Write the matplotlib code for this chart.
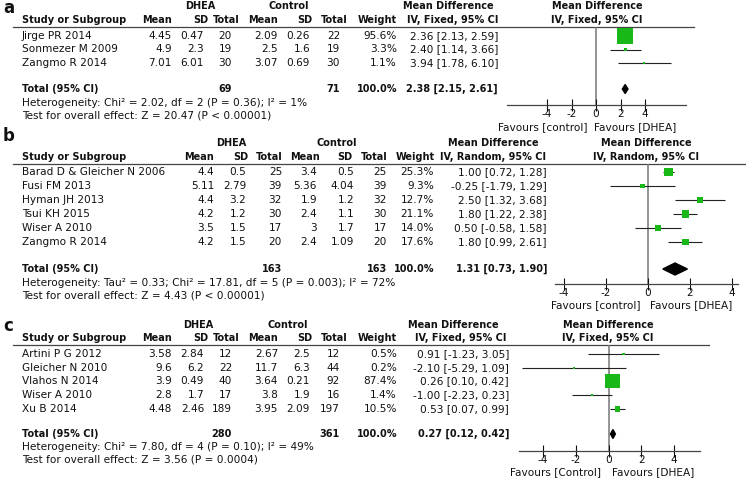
import numpy as np
import matplotlib.pyplot as plt
from matplotlib.patches import Polygon

W, H = 746, 480
plt.rcParams['font.family'] = 'DejaVu Sans'
FS = 7.55   # regular text
FB = 7.0    # bold text
GREEN = '#17b817'

# ---- panel a : IV, Fixed
a_study = ['Jirge PR 2014', 'Sonmezer M 2009', 'Zangmo R 2014']
a_dhea_mean = ['4.45', '4.9', '7.01']
a_dhea_sd = ['0.47', '2.3', '6.01']
a_dhea_n = [20, 19, 30]
a_ctrl_mean = ['2.09', '2.5', '3.07']
a_ctrl_sd = ['0.26', '1.6', '0.69']
a_ctrl_n = [22, 19, 30]
a_weight = [95.6, 3.3, 1.1]
a_md = [2.36, 2.40, 3.94]
a_lo = [2.13, 1.14, 1.78]
a_hi = [2.59, 3.66, 6.10]
a_total = [2.38, 2.15, 2.61]
a_het = 'Heterogeneity: Chi² = 2.02, df = 2 (P = 0.36); I² = 1%'
a_test = 'Test for overall effect: Z = 20.47 (P < 0.00001)'

# ---- panel b : IV, Random
b_study = ['Barad D & Gleicher N 2006', 'Fusi FM 2013', 'Hyman JH 2013',
           'Tsui KH 2015', 'Wiser A 2010', 'Zangmo R 2014']
b_dhea_mean = ['4.4', '5.11', '4.4', '4.2', '3.5', '4.2']
b_dhea_sd = ['0.5', '2.79', '3.2', '1.2', '1.5', '1.5']
b_dhea_n = [25, 39, 32, 30, 17, 20]
b_ctrl_mean = ['3.4', '5.36', '1.9', '2.4', '3', '2.4']
b_ctrl_sd = ['0.5', '4.04', '1.2', '1.1', '1.7', '1.09']
b_ctrl_n = [25, 39, 32, 30, 17, 20]
b_weight = [25.3, 9.3, 12.7, 21.1, 14.0, 17.6]
b_md = [1.00, -0.25, 2.50, 1.80, 0.50, 1.80]
b_lo = [0.72, -1.79, 1.32, 1.22, -0.58, 0.99]
b_hi = [1.28, 1.29, 3.68, 2.38, 1.58, 2.61]
b_total = [1.31, 0.73, 1.90]
b_het = 'Heterogeneity: Tau² = 0.33; Chi² = 17.81, df = 5 (P = 0.003); I² = 72%'
b_test = 'Test for overall effect: Z = 4.43 (P < 0.00001)'

# ---- panel c : IV, Fixed
c_study = ['Artini P G 2012', 'Gleicher N 2010', 'Vlahos N 2014', 'Wiser A 2010', 'Xu B 2014']
c_dhea_mean = ['3.58', '9.6', '3.9', '2.8', '4.48']
c_dhea_sd = ['2.84', '6.2', '0.49', '1.7', '2.46']
c_dhea_n = [12, 22, 40, 17, 189]
c_ctrl_mean = ['2.67', '11.7', '3.64', '3.8', '3.95']
c_ctrl_sd = ['2.5', '6.3', '0.21', '1.9', '2.09']
c_ctrl_n = [12, 44, 92, 16, 197]
c_weight = [0.5, 0.2, 87.4, 1.4, 10.5]
c_md = [0.91, -2.10, 0.26, -1.00, 0.53]
c_lo = [-1.23, -5.29, 0.10, -2.23, 0.07]
c_hi = [3.05, 1.09, 0.42, 0.23, 0.99]
c_total = [0.27, 0.12, 0.42]
c_het = 'Heterogeneity: Chi² = 7.80, df = 4 (P = 0.10); I² = 49%'
c_test = 'Test for overall effect: Z = 3.56 (P = 0.0004)'

ticks = [-4, -2, 0, 2, 4]

fig = plt.figure(figsize=(W / 100, H / 100), dpi=100)
ov = fig.add_axes([0, 0, 1, 1])
ov.set_xlim(0, W)
ov.set_ylim(H, 0)
ov.axis('off')


def txt(x, y, s, ha='left', bold=False, size=None):
    if size is None:
        size = FB if bold else FS
    ov.text(x, y, s, ha=ha, va='center', fontsize=size,
            fontweight='bold' if bold else 'normal', color='#111111')


def panel(lay, letter, method, study, m1, sd1, n1, m2, sd2, n2, w, md, lo, hi, tot,
          het, test, ctrl_word):
    # header block
    txt(3, lay['label_y'], letter, bold=True, size=12)
    txt(lay['grp1'], lay['grp_y'], 'DHEA', ha='center', bold=True)
    txt(lay['grp2'], lay['grp_y'], 'Control', ha='center', bold=True)
    txt(lay['mdc'][0], lay['grp_y'], 'Mean Difference', ha='center', bold=True)
    txt(lay['mdc'][1], lay['col_y'], method, ha='center', bold=True)
    txt(lay['fhc'], lay['grp_y'], 'Mean Difference', ha='center', bold=True)
    txt(lay['fhc'], lay['col_y'], method, ha='center', bold=True)
    txt(22, lay['col_y'], 'Study or Subgroup', bold=True)
    for name, x in zip(['Mean', 'SD', 'Total', 'Mean', 'SD', 'Total', 'Weight'], lay['cols']):
        txt(x, lay['col_y'], name, ha='right', bold=True)
    ov.plot([13, lay['line_x1']], [lay['line_y']] * 2, color='#444444', lw=0.9)

    # study rows
    vx = lay['vals']
    for i, y in enumerate(lay['rows']):
        txt(22, y, study[i])
        cells = [m1[i], sd1[i], str(n1[i]), m2[i], sd2[i], str(n2[i]), f'{w[i]:.1f}%']
        for s, x in zip(cells, vx):
            txt(x, y, s, ha='right')
        txt(lay['mdr'], y, f'{md[i]:.2f} [{lo[i]:.2f}, {hi[i]:.2f}]', ha='right')

    # total row + footnotes
    ty = lay['total_y']
    txt(22, ty, 'Total (95% CI)', bold=True)
    txt(vx[2], ty, str(sum(n1)), ha='right', bold=True)
    txt(vx[5], ty, str(sum(n2)), ha='right', bold=True)
    txt(vx[6], ty, '100.0%', ha='right', bold=True)
    txt(lay['mdr'], ty, f'{tot[0]:.2f} [{tot[1]:.2f}, {tot[2]:.2f}]', ha='right', bold=True)
    txt(22, lay['het_y'], het)
    txt(22, lay['test_y'], test)

    # forest plot
    x0, x1, zero, unit = lay['fx0'], lay['fx1'], lay['zero'], lay['unit']
    top, bot = lay['line_y'], lay['axis_y']
    ax = fig.add_axes([x0 / W, 1 - bot / H, (x1 - x0) / W, (bot - top) / H])
    ax.set_xlim((x0 - zero) / unit, (x1 - zero) / unit)
    ax.set_ylim(bot, top)
    ax.patch.set_alpha(0)
    for s in ['top', 'left', 'right']:
        ax.spines[s].set_visible(False)
    ax.spines['bottom'].set_linewidth(0.9)
    ax.spines['bottom'].set_color('#444444')
    ax.axvline(0, color='#777777', lw=1.1, zorder=1)
    ax.hlines(lay['rows'], lo, hi, color='#222222', lw=0.8, zorder=2)
    side = np.maximum(2.2, 1.6 * np.sqrt(w))
    ax.scatter(md, lay['rows'], marker='s', s=(side * 0.72) ** 2, color=GREEN,
               lw=0, zorder=3)
    h = lay['dh']
    ax.add_patch(Polygon([(tot[1], ty), (tot[0], ty - h), (tot[2], ty), (tot[0], ty + h)],
                         closed=True, color='black', zorder=3))
    ax.set_yticks([])
    ax.set_xticks(ticks)
    ax.set_xticklabels([str(t) for t in ticks])
    ax.tick_params(axis='x', direction='inout', length=8, width=0.8, labelsize=FS,
                   pad=-1, colors='#111111')
    txt(zero + lay['fav'][0], lay['fav_y'], f'Favours [{ctrl_word}]', ha='right')
    txt(zero + lay['fav'][1], lay['fav_y'], 'Favours [DHEA]', ha='left')


lay_a = dict(label_y=8, grp_y=6, col_y=20, line_y=27, line_x1=694,
             grp1=200, grp2=289, mdc=(448, 453), fhc=597,
             cols=[172, 208, 240, 278, 312, 348, 397],
             vals=[172, 204, 232, 278, 310, 340, 397], mdr=498,
             rows=[36, 49.5, 63], total_y=89, het_y=103, test_y=116,
             fx0=507, fx1=686, zero=596, unit=12.25, axis_y=105, fav_y=127,
             fav=(-8, -2), dh=4.5)
lay_b = dict(label_y=136, grp_y=143, col_y=157, line_y=164, line_x1=746,
             grp1=231, grp2=337, mdc=(493, 493), fhc=646,
             cols=[214, 248, 283, 320, 352, 388, 435],
             vals=[214, 246, 282, 317, 354, 387, 434], mdr=547,
             rows=[172, 186, 200, 214, 228, 242], total_y=269, het_y=283, test_y=296,
             fx0=555, fx1=738, zero=647.5, unit=21.0, axis_y=284, fav_y=305,
             fav=(-7, 3), dh=6)
lay_c = dict(label_y=326, grp_y=325, col_y=338, line_y=345, line_x1=709,
             grp1=198, grp2=288, mdc=(453, 461), fhc=608,
             cols=[172, 208, 240, 278, 312, 348, 397],
             vals=[172, 204, 232, 278, 310, 340, 397], mdr=509,
             rows=[354, 368, 381, 395, 409], total_y=434, het_y=447, test_y=459,
             fx0=519, fx1=700, zero=608.5, unit=16.4, axis_y=451, fav_y=472,
             fav=(-7, 3), dh=4.5)

panel(lay_a, 'a', 'IV, Fixed, 95% CI', a_study, a_dhea_mean, a_dhea_sd, a_dhea_n,
      a_ctrl_mean, a_ctrl_sd, a_ctrl_n, a_weight, a_md, a_lo, a_hi, a_total,
      a_het, a_test, 'control')
panel(lay_b, 'b', 'IV, Random, 95% CI', b_study, b_dhea_mean, b_dhea_sd, b_dhea_n,
      b_ctrl_mean, b_ctrl_sd, b_ctrl_n, b_weight, b_md, b_lo, b_hi, b_total,
      b_het, b_test, 'control')
panel(lay_c, 'c', 'IV, Fixed, 95% CI', c_study, c_dhea_mean, c_dhea_sd, c_dhea_n,
      c_ctrl_mean, c_ctrl_sd, c_ctrl_n, c_weight, c_md, c_lo, c_hi, c_total,
      c_het, c_test, 'Control')

fig.savefig('out.png', dpi=100)
